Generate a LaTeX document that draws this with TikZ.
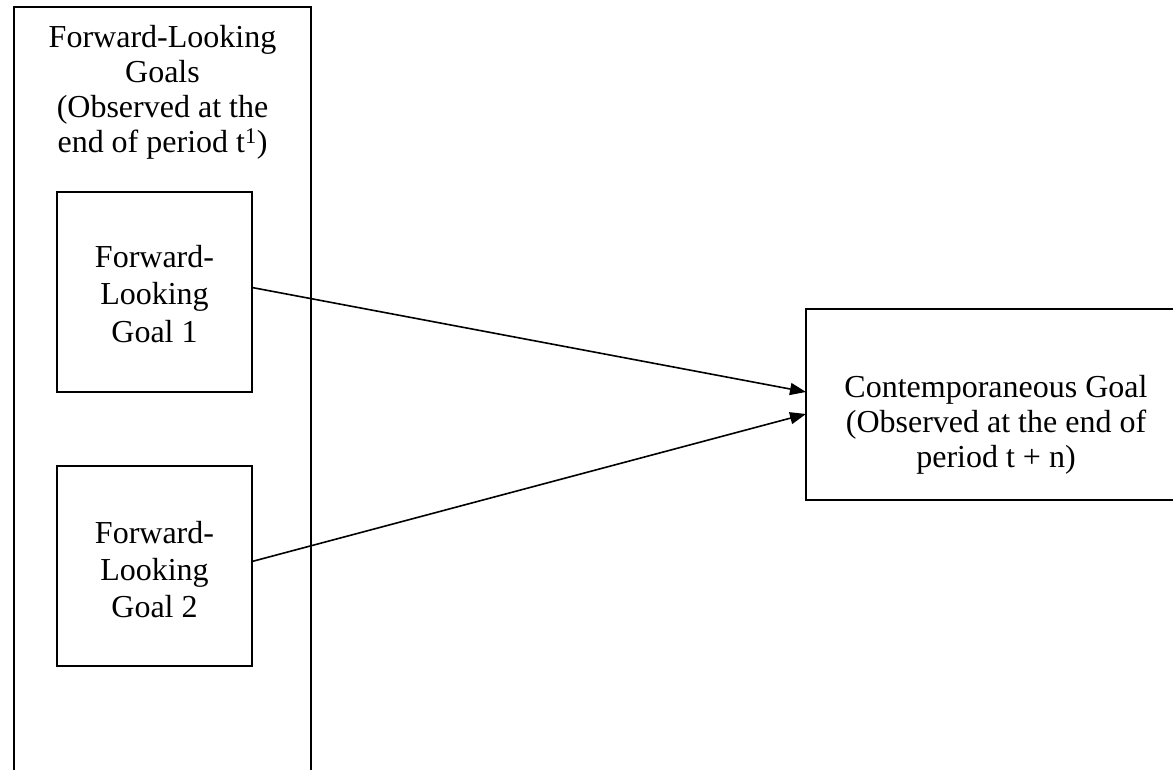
\documentclass[tikz,border=0pt]{standalone}
\usepackage{fontspec}
\setmainfont{Liberation Serif}
\usetikzlibrary{arrows.meta,calc}
% centred lines in a \vtop, so the base anchor sits on the first baseline
\newcommand\linesblock[2]{\vtop{\fontsize{32}{#1}\selectfont\halign{\hfil##\hfil\cr#2\crcr}}}
\begin{document}
\begin{tikzpicture}[x=1pt,y=-1pt,
  box/.style={draw=black,line width=1.6pt,inner sep=0pt,outer sep=0pt,fill=none},
  label/.style={inner sep=0pt,outer sep=0pt,anchor=base},
  arr/.style={line width=1.6pt,-{Triangle[length=16pt,width=12pt]}}]
\useasboundingbox (0,0) rectangle (1173,770);
\clip (0,0) rectangle (1173,770);
\fill[white] (0,0) rectangle (1173,770);

% outer frame, open past the lower edge
\node[box,minimum width=297pt,minimum height=793pt] (outer) at (162.5,403.5) {};
\node[label] (title) at (162.5,48) {\linesblock{35pt}{Forward-Looking\cr Goals\cr (Observed at the\cr end of period t\textsuperscript{1})}};

% the two forward-looking goals
\node[box,minimum width=195pt,minimum height=200pt] (g1) at (154.5,292) {};
\node[label] (g1text) at (154.5,268) {\linesblock{37pt}{Forward-\cr Looking\cr Goal 1}};
\node[box,minimum width=195pt,minimum height=200pt] (g2) at (154.5,566) {};
\node[label] (g2text) at (154.5,543) {\linesblock{37pt}{Forward-\cr Looking\cr Goal 2}};

% contemporaneous goal, running past the right edge
\node[box,minimum width=384pt,minimum height=191pt] (cg) at (998,404.5) {};
\node[label] (cgtext) at (996,397) {\linesblock{35pt}{Contemporaneous Goal\cr (Observed at the end of\cr period t + n)}};

% links
\draw[arr] ($(g1.east)+(0,-4.5)$) -- ($(cg.west)+(0,-12.5)$);
\draw[arr] ($(g2.east)+(0,-4.5)$) -- ($(cg.west)+(0,9.5)$);
\end{tikzpicture}
\end{document}
